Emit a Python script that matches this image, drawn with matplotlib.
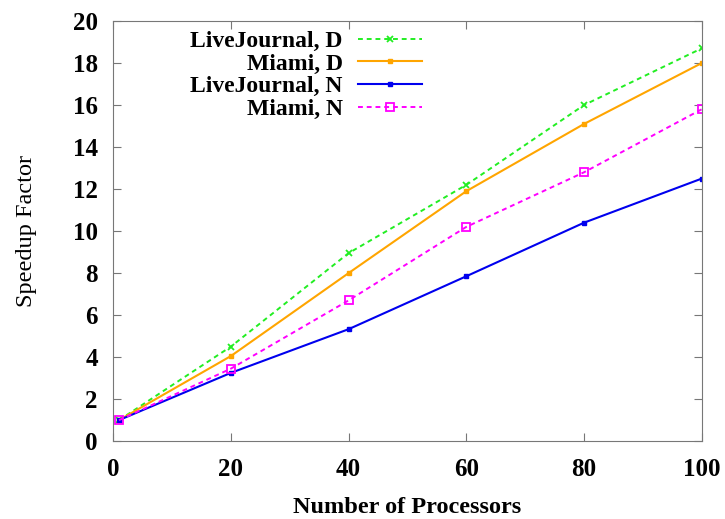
import matplotlib
matplotlib.use("Agg")
from matplotlib import pyplot as plt

# Speedup vs. number of processors
procs = [1, 20, 40, 60, 80, 100]

lj_d = [1.0, 4.5, 8.95, 12.2, 16.0, 18.7]
miami_d = [1.0, 4.05, 8.0, 11.9, 15.1, 18.0]
lj_n = [1.0, 3.25, 5.33, 7.85, 10.4, 12.5]
miami_n = [1.0, 3.45, 6.7, 10.2, 12.8, 15.8]

x_ticks = [0, 20, 40, 60, 80, 100]
y_ticks = [0, 2, 4, 6, 8, 10, 12, 14, 16, 18, 20]

plt.rcParams["font.family"] = ["Liberation Serif", "DejaVu Serif"]

fig = plt.figure(figsize=(7.25, 5.19), dpi=100)
ax = fig.add_axes([0.156, 0.150, 0.812, 0.8095])

ax.plot(procs, lj_d, color="#22ee22", linestyle=(0, (2.5, 2)), linewidth=1.4,
        marker="x", markersize=5, markeredgewidth=1.3, label="LiveJournal, D")
ax.plot(procs, miami_d, color="#ffa500", linestyle="-", linewidth=1.5,
        marker="s", markersize=3.5, label="Miami, D")
ax.plot(procs, lj_n, color="#0000ee", linestyle="-", linewidth=1.5,
        marker="s", markersize=3.5, label="LiveJournal, N")
ax.plot(procs, miami_n, color="#ff00ff", linestyle=(0, (2.5, 2)), linewidth=1.4,
        marker="s", markersize=6, markerfacecolor="none", markeredgewidth=1.3,
        label="Miami, N")

ax.set_xlim(0, 100)
ax.set_ylim(0, 20)
ax.set_xticks(x_ticks)
ax.set_yticks(y_ticks)
ax.tick_params(direction="in", top=True, right=True, length=6, color="#777777",
               labelsize=18)
ax.tick_params(axis="x", pad=12)
ax.tick_params(axis="y", pad=11)
for lab in ax.get_xticklabels() + ax.get_yticklabels():
    lab.set_fontweight("bold")
for sp in ax.spines.values():
    sp.set_color("#777777")

ax.set_xlabel("Number of Processors", fontsize=17.5, fontweight="bold", labelpad=12)
ax.set_ylabel("Speedup Factor", fontsize=17.5, labelpad=26)

leg = ax.legend(loc="upper left", bbox_to_anchor=(0.095, 1.028), frameon=False,
                markerfirst=False, prop={"weight": "bold", "size": 17},
                handlelength=2.7, handletextpad=0.65, labelspacing=0.05)

fig.savefig("out.png", dpi=100)
